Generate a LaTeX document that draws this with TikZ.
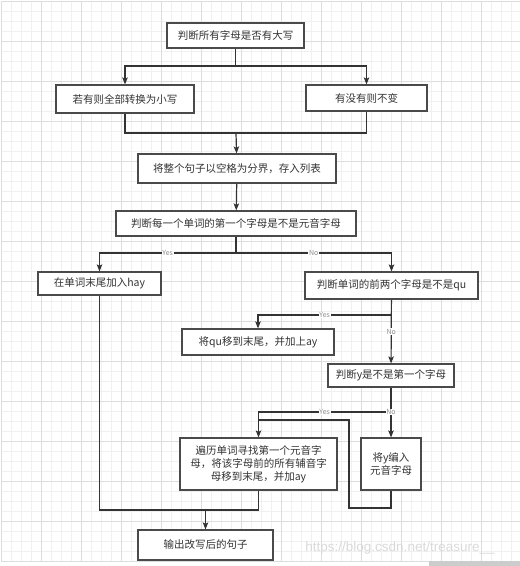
\documentclass[tikz,border=0pt]{standalone}
\usepackage{fontspec}
\setmainfont{Noto Sans CJK SC}
\newfontfamily\wmfont{Liberation Sans}
\usetikzlibrary{positioning, arrows.meta}
\definecolor{flowline}{HTML}{333333}
\definecolor{flowbox}{HTML}{4A4A4A}
\definecolor{flowtext}{HTML}{333333}
\definecolor{gridminor}{HTML}{F0F0F0}
\definecolor{gridmajor}{HTML}{DDDDDD}

\begin{document}
\begin{tikzpicture}[
    x=1pt, y=-1pt,
    >={Stealth[length=7pt, width=5.5pt, inset=1.5pt]},
    font=\fontsize{10.5}{13}\selectfont,
    stepbox/.style={
        draw=flowbox, fill=white, text=flowtext, line width=1.2pt,
        rectangle, inner sep=2pt, align=center,
    },
    arrow/.style={->, line width=1.2pt, draw=flowline},
    link/.style={line width=1.2pt, draw=flowline},
    lbl/.style={font=\fontsize{7}{8}\selectfont, text=black!45, fill=white, inner sep=0.8pt},
]
\useasboundingbox (0,0) rectangle (520,566);

% ===== Grid background =====
\foreach \gx in {1,11,...,511} \draw[gridminor, line width=0.8pt] (\gx,1) -- (\gx,561);
\foreach \gy in {1,11,...,561} \draw[gridminor, line width=0.8pt] (1,\gy) -- (520,\gy);
\foreach \gx in {1,41,...,481} \draw[gridmajor, line width=0.8pt] (\gx,1) -- (\gx,561);
\foreach \gy in {1,41,...,561} \draw[gridmajor, line width=0.8pt] (1,\gy) -- (520,\gy);
\fill[black!20] (429,561) rectangle (520,566);

% ===== Upper part: case check, split into words =====
\node[stepbox, minimum width=137pt, minimum height=25pt] (upper) at (235.5,35.5) {判断所有字母是否有大写};
\node[stepbox, minimum width=138pt, minimum height=28pt] (lower) at (125,99)     {若有则全部转换为小写};
\node[stepbox, minimum width=121pt, minimum height=26pt] (keep)  at (366.5,98)   {有没有则不变};
\node[stepbox, minimum width=198pt, minimum height=29pt] (split) at (237,168.5)  {将整个句子以空格为分界，存入列表};
\node[stepbox, minimum width=240pt, minimum height=25pt] (vowel) at (236,223.5)  {判断每一个单词的第一个字母是不是元音字母};

% ===== Middle part: vowel / qu / y checks =====
\node[stepbox, minimum width=123pt, minimum height=23pt] (hay)    at (99.5,283.5) {在单词末尾加入hay};
\node[stepbox, minimum width=173pt, minimum height=27pt] (qu)     at (391.5,285.5) {判断单词的前两个字母是不是qu};
\node[stepbox, minimum width=152pt, minimum height=26pt] (movequ) at (258,342)    {将qu移到末尾，并加上ay};
\node[stepbox, minimum width=126pt, minimum height=23pt] (firsty) at (391,375.5)  {判断y是不是第一个字母};

% ===== Lower part: consonant move, output =====
\node[stepbox, minimum width=157pt, minimum height=52pt] (moveall) at (258.5,464) {遍历单词寻找第一个元音字\\母，将该字母前的所有辅音字\\母移到末尾，并加ay};
\node[stepbox, minimum width=60pt, minimum height=52pt]  (yvowel)  at (391,464)   {将y编入\\元音字母};
\node[stepbox, minimum width=135pt, minimum height=30pt] (output)  at (205.5,545) {输出改写后的句子};

\node[text=black!15, font=\wmfont\fontsize{13.5}{14}\selectfont, inner sep=0pt] (watermark) at (400,548) {https://blog.csdn.net/treasure\_\_};

% ===== Connectors =====
\coordinate (fork1) at (235.5,66);
\coordinate (join1) at (236,133);
\coordinate (fork2) at (236,253);
\coordinate (fork3) at (391.5,315);
\coordinate (fork4) at (391,412);
\coordinate (back1) at (349,508);
\coordinate (back2) at (258.5,420);
\coordinate (join2) at (205.5,510);

% case check -> both branches
\draw[link] (upper) -- (fork1);
\draw[arrow] (fork1) -| (lower);
\draw[arrow] (fork1) -| (keep);

% both branches -> split
\draw[link] (lower) |- (join1);
\draw[link] (keep) |- (join1);
\draw[arrow] (join1) -- (split);
\draw[arrow] (split) -- (vowel);

% first letter vowel?
\draw[link] (vowel) -- (fork2);
\draw[arrow] (fork2) -| node[lbl, pos=0.25] {Yes} (hay);
\draw[arrow] (fork2) -| node[lbl, pos=0.25] {No} (qu);

% starts with qu?
\draw[arrow] (fork3) -| node[lbl, pos=0.25] {Yes} (movequ);
\draw[arrow] (qu) -- node[lbl, pos=0.5] {No} (firsty);

% y first?
\draw[link] (firsty) -- (fork4);
\draw[arrow] (fork4) -| node[lbl, pos=0.25] {Yes} (moveall);
\draw[arrow] (fork4) -- node[lbl, pos=0] {No} (yvowel);

% y as vowel -> back into consonant move
\draw[link] (yvowel) |- (back1) |- (back2);

% all paths -> output
\draw[link] (hay) |- (join2);
\draw[link] (moveall) |- (join2);
\draw[arrow] (join2) -- (output);

\end{tikzpicture}
\end{document}
